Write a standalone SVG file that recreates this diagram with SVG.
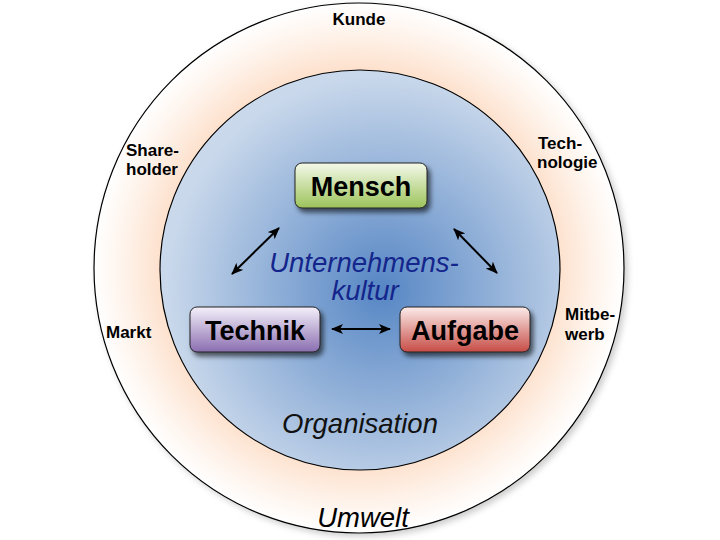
<svg xmlns="http://www.w3.org/2000/svg" width="720" height="540" viewBox="0 0 720 540">
<defs>
  <radialGradient id="gOuter" gradientUnits="userSpaceOnUse" cx="359" cy="268" r="265">
    <stop offset="0.75" stop-color="#fde1cd"/>
    <stop offset="0.88" stop-color="#fef2e9"/>
    <stop offset="1" stop-color="#ffffff"/>
  </radialGradient>
  <radialGradient id="gInner" gradientUnits="userSpaceOnUse" cx="382" cy="290" r="215">
    <stop offset="0" stop-color="#5686c4"/>
    <stop offset="1" stop-color="#c9d8eb"/>
  </radialGradient>
  <linearGradient id="gGreen" x1="0" y1="0" x2="0" y2="1">
    <stop offset="0" stop-color="#f4f9ea"/>
    <stop offset="1" stop-color="#9cc35a"/>
  </linearGradient>
  <linearGradient id="gPurple" x1="0" y1="0" x2="0" y2="1">
    <stop offset="0" stop-color="#f4f0fa"/>
    <stop offset="1" stop-color="#8a6eb0"/>
  </linearGradient>
  <linearGradient id="gRed" x1="0" y1="0" x2="0" y2="1">
    <stop offset="0" stop-color="#fcecea"/>
    <stop offset="1" stop-color="#c64c46"/>
  </linearGradient>
  <filter id="shadow" x="-20%" y="-30%" width="150%" height="180%">
    <feDropShadow dx="3" dy="4" stdDeviation="2.5" flood-color="#000" flood-opacity="0.6"/>
  </filter>
  <filter id="softShadow" x="-10%" y="-10%" width="125%" height="125%">
    <feDropShadow dx="3" dy="3" stdDeviation="3" flood-color="#000" flood-opacity="0.2"/>
  </filter>
  <marker id="ah" viewBox="0 0 12 10" refX="11" refY="5" markerWidth="12" markerHeight="10" markerUnits="userSpaceOnUse" orient="auto-start-reverse">
    <path d="M0,0 L12,5 L0,10 L3,5 z" fill="#000"/>
  </marker>
  <style>
    .ring { stroke:#000; stroke-width:1.2; }
    .box { stroke:#222; stroke-width:1; filter:url(#shadow); }
    .nodeText { font-family:"Liberation Sans", Arial, sans-serif; font-weight:bold; font-size:27px; fill:#000; text-anchor:middle; }
    .env { font-family:"Liberation Sans", Arial, sans-serif; font-weight:bold; font-size:17px; fill:#000; }
    .big { font-family:"Liberation Sans", Arial, sans-serif; font-style:italic; font-size:27.5px; text-anchor:middle; }
    .conn { stroke:#000; stroke-width:2; fill:none; marker-start:url(#ah); marker-end:url(#ah); }
  </style>
</defs>
<g id="umwelt">
  <circle cx="359" cy="268" r="265" fill="url(#gOuter)" class="ring" filter="url(#softShadow)"/>
  <text class="big" x="363" y="527" fill="#000">Umwelt</text>
  <text class="env" x="359" y="25" text-anchor="middle">Kunde</text>
  <text class="env" x="126" y="156">Share-</text>
  <text class="env" x="126" y="175">holder</text>
  <text class="env" x="538" y="149">Tech-</text>
  <text class="env" x="537" y="168">nologie</text>
  <text class="env" x="106" y="338">Markt</text>
  <text class="env" x="565" y="320">Mitbe-</text>
  <text class="env" x="565" y="340">werb</text>
</g>
<g id="organisation">
  <circle cx="360" cy="270" r="200" fill="url(#gInner)" class="ring"/>
  <text class="big" x="360" y="433" fill="#111">Organisation</text>
</g>
<g id="unternehmenskultur">
  <text class="big" x="364" y="272" fill="#14258c">Unternehmens-</text>
  <text class="big" x="365" y="300" fill="#14258c">kultur</text>
</g>
<g id="connectors">
  <line class="conn" x1="232" y1="274" x2="279" y2="228"/>
  <line class="conn" x1="454" y1="229" x2="497" y2="273"/>
  <line class="conn" x1="332" y1="329" x2="390" y2="329"/>
</g>
<g id="mensch">
  <rect x="295" y="163" width="132" height="45" rx="7" fill="url(#gGreen)" class="box"/>
  <text class="nodeText" x="361" y="196">Mensch</text>
</g>
<g id="technik">
  <rect x="190" y="307" width="130" height="45" rx="7" fill="url(#gPurple)" class="box"/>
  <text class="nodeText" x="255" y="340">Technik</text>
</g>
<g id="aufgabe">
  <rect x="400" y="307" width="130" height="45" rx="7" fill="url(#gRed)" class="box"/>
  <text class="nodeText" x="465" y="340">Aufgabe</text>
</g>
</svg>
